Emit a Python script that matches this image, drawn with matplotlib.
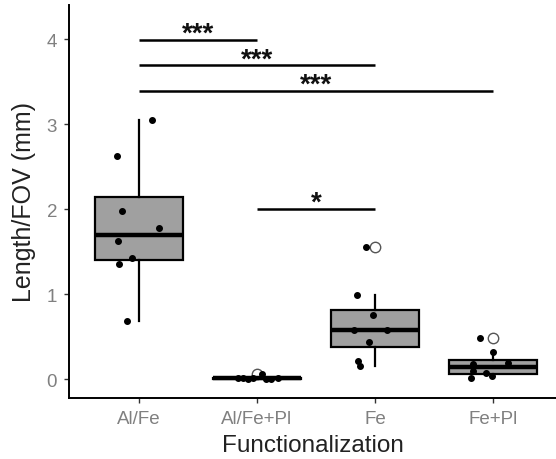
import matplotlib
matplotlib.use("Agg")
import matplotlib.pyplot as plt
import numpy as np

plt.rcParams['font.family'] = ['Liberation Sans', 'DejaVu Sans']

# data
groups = ["Al/Fe", "Al/Fe+Pl", "Fe", "Fe+Pl"]
al_fe = [3.05, 2.63, 1.98, 1.78, 1.62, 1.42, 1.35, 0.68]
al_fe_pl = [0.06, 0.02, 0.015, 0.01, 0.01, 0.005, 0.0, 0.0]
fe = [1.56, 0.99, 0.75, 0.58, 0.58, 0.44, 0.22, 0.16]
fe_pl = [0.48, 0.32, 0.19, 0.18, 0.10, 0.07, 0.04, 0.01]

# horizontal jitter of the dots (category units)
jit_al_fe = [0.11, -0.19, -0.14, 0.17, -0.18, -0.06, -0.17, -0.10]
jit_al_fe_pl = [0.04, -0.16, -0.12, -0.03, 0.18, 0.08, -0.08, 0.12]
jit_fe = [-0.08, -0.15, -0.02, -0.18, 0.10, -0.05, -0.14, -0.13]
jit_fe_pl = [-0.11, 0.0, 0.13, -0.17, -0.17, -0.06, -0.01, -0.19]

# significance brackets: (from group, to group, height, label)
sig_from = [0, 0, 0, 1]
sig_to = [1, 2, 3, 2]
sig_y = [3.99, 3.69, 3.39, 2.0]
sig_lab = ["***", "***", "***", "*"]

series = [al_fe, al_fe_pl, fe, fe_pl]
jitters = [jit_al_fe, jit_al_fe_pl, jit_fe, jit_fe_pl]
pos = np.arange(len(groups))

fig = plt.figure(figsize=(5.56, 4.6), dpi=100)
ax = fig.add_axes([69/556, 61/460, 1 - 69/556, 393/460])

ax.boxplot(series, positions=pos, widths=0.75, patch_artist=True,
           boxprops=dict(facecolor='#a0a0a0', edgecolor='black', linewidth=1.6),
           medianprops=dict(color='black', linewidth=3.2),
           whiskerprops=dict(color='black', linewidth=1.6),
           capprops=dict(linewidth=0),
           flierprops=dict(marker='o', markerfacecolor='white', markeredgecolor='#555555',
                           markersize=7.5, markeredgewidth=1.0),
           zorder=2)

for i, (vals, jit) in enumerate(zip(series, jitters)):
    ax.plot(np.array(jit) + i, vals, 'o', color='black', markersize=4, zorder=3)

for a, b, y, lab in zip(sig_from, sig_to, sig_y, sig_lab):
    ax.plot([a, b], [y, y], color='black', linewidth=1.8, solid_capstyle='butt')
    ax.text((a + b) / 2, y - 0.01, lab, ha='center', va='baseline', fontsize=20,
            fontweight='bold', color='#111111')

ax.set_xlim(-0.593, 3.534)
ax.set_ylim(-0.22, 4.40)
ax.set_yticks([0, 1, 2, 3, 4])
ax.set_xticks(pos)
ax.set_xticklabels(groups)

for s in ['top', 'right']:
    ax.spines[s].set_visible(False)
for s in ['left', 'bottom']:
    ax.spines[s].set_linewidth(1.4)
ax.tick_params(axis='both', length=3.5, width=1.0, color='#333333',
               labelsize=13.5, labelcolor='#808080', pad=5)

ax.set_xlabel("Functionalization", fontsize=17.5, color='#222222', labelpad=5)
ax.set_ylabel("Length/FOV (mm)", fontsize=18, color='#222222', labelpad=8)

plt.savefig('out.png', dpi=100)
